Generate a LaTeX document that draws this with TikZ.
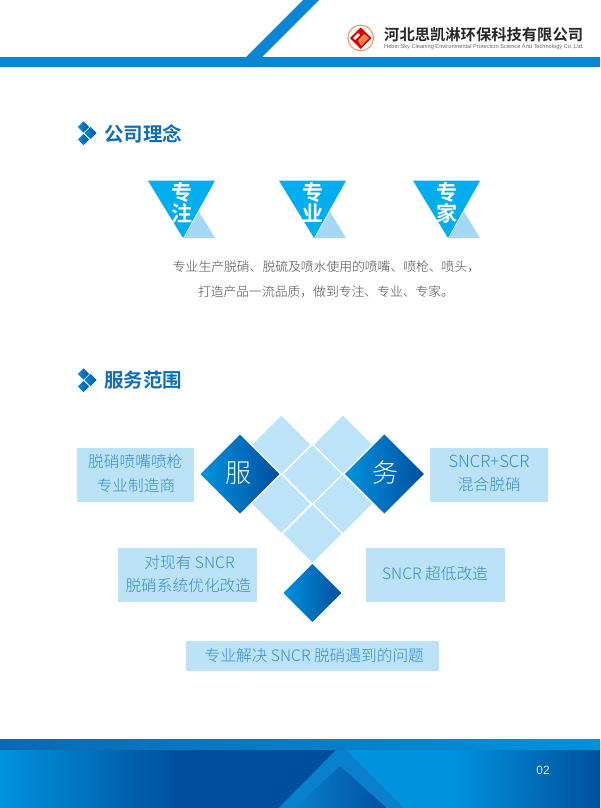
\documentclass[tikz,border=0pt]{standalone}
\usepackage{fontspec}
\setmainfont{Noto Sans CJK SC Light}[BoldFont={Noto Sans CJK SC Bold}]
\newfontfamily\latinf{Liberation Sans}
\definecolor{barblue}{HTML}{0A86D2}
\definecolor{deepblue}{HTML}{004F9F}
\definecolor{brightblue}{HTML}{0092DD}
\definecolor{stripeb}{HTML}{0A7FCC}
\definecolor{stripdk}{HTML}{0A69B4}
\definecolor{skyb}{HTML}{00AEEF}
\definecolor{palet}{HTML}{A6D8F4}
\definecolor{paleb}{HTML}{BCE2F8}
\definecolor{lattice}{HTML}{BDE3F8}
\definecolor{boxtext}{HTML}{2F8FCB}
\definecolor{titleb}{HTML}{0E6DB6}
\newcommand{\fs}[1]{\fontsize{#1}{#1}\selectfont}
\newcommand{\diam}[4]{\path[#4] (#1-#3,#2) -- (#1,#2-#3) -- (#1+#3,#2) -- (#1,#2+#3) -- cycle;}
\newcommand{\tri}[2]{%
  \fill[skyb] (#1,180.7) -- (#1+67,180.7) -- (#1+35,238) -- cycle;
  \fill[palet] (#1+51,211.7) -- (#1+67,238) -- (#1+35.5,238) -- cycle;
  \node[trichar] (#2a) at (#1+33.7,192.7) {专};
}
\newcommand{\icon}[1]{%
  \diam{83.5}{#1-6}{5.6}{blueg}
  \diam{90.5}{#1}{6.2}{blueg}
  \diam{83.5}{#1+6.5}{5.6}{blueg}
}
\tikzset{
  blueg/.style={left color=brightblue,right color=deepblue},
  latt/.style={fill=lattice},
  infobox/.style={fill=paleb},
  boxlabel/.style={text=boxtext,font=\fs{15.7},inner sep=0pt,align=center},
  trichar/.style={text=white,font=\fs{21}\bfseries,inner sep=0pt},
  sectitle/.style={text=titleb,font=\fs{19.5}\bfseries,inner sep=0pt,anchor=west},
  bodytext/.style={text=black!70,font=\fs{12.8},inner sep=0pt},
  dchar/.style={text=white,font=\fs{26},inner sep=0pt}
}
\begin{document}
\begin{tikzpicture}[x=1pt,y=-1pt]
\useasboundingbox (0,0) rectangle (600,808);
% header
\fill[barblue] (246,57) -- (303,0) -- (319,0) -- (262,57) -- cycle;
\fill[barblue] (0,57) rectangle (600,67);
\draw[draw=orange!70!red!70,line width=1pt,fill=white] (360.7,38) circle (12.8);
\fill[red!85!black] (360.7,27.5) -- (371.5,38) -- (360.7,49) -- (350,38) -- cycle;
\fill[orange!60!red!70] (358,40.5) -- (364,34) -- (369,38) -- (361,46) -- cycle;
\fill[white] (353,38) -- (358,33) -- (360,35) -- (355,40) -- cycle;
\node[inner sep=0pt,anchor=west,font=\fs{15.3}\bfseries,text=black!85] (cname) at (384,35) {河北思凯淋环保科技有限公司};
\node[inner sep=0pt,anchor=west,font=\latinf\fs{5.66},text=black!60] (ename) at (384,47) {Hebei Sky Cleaning Environmental Protection Science And Technology Co.,Ltd.};
% section 1
\icon{133}
\node[sectitle] (t1) at (104,133.5) {公司理念};
\tri{148}{p}
\node[trichar] (pb) at (181.7,213) {注};
\tri{279}{q}
\node[trichar] (qb) at (312.7,213) {业};
\tri{413}{r}
\node[trichar] (rb) at (446.7,213) {家};
\node[bodytext] (l1) at (326.5,267) {专业生产脱硝、脱硫及喷水使用的喷嘴、喷枪、喷头，};
\node[bodytext] (l2) at (326,292) {打造产品一流品质，做到专注、专业、专家。};
% section 2
\icon{380}
\node[sectitle] (t2) at (104,380) {服务范围};
% lattice
\diam{281.3}{444.7}{29}{latt}
\diam{343}{444.7}{29}{latt}
\diam{312.3}{474.2}{29}{latt}
\diam{281.3}{503.8}{29}{latt}
\diam{343}{503.8}{29}{latt}
\diam{312.3}{533.7}{29}{latt}
% dark diamonds
\diam{240}{474}{39.5}{blueg}
\diam{384.3}{474}{39.5}{blueg}
\diam{312.3}{593}{29}{blueg}
\node[dchar] (fu) at (238,473) {服};
\node[dchar] (wu) at (385.7,473) {务};
% boxes
\fill[infobox] (77,447.7) rectangle (194.3,501.7);
\fill[infobox] (430.3,447.7) rectangle (547.7,501.7);
\fill[infobox] (118.3,547.7) rectangle (257.3,601.7);
\fill[infobox] (366.3,547.7) rectangle (505.3,601.7);
\fill[infobox] (185.7,641) rectangle (439,671);
\node[boxlabel] (a1) at (135.3,461.7) {脱硝喷嘴喷枪};
\node[boxlabel] (a2) at (136,485.5) {专业制造商};
\node[boxlabel,font=\fs{16.6}] (b1) at (489,461) {SNCR+SCR};
\node[boxlabel] (b2) at (489.3,485) {混合脱硝};
\node[boxlabel] (c1) at (189.5,562.3) {对现有 SNCR};
\node[boxlabel] (c2) at (188.3,586) {脱硝系统优化改造};
\node[boxlabel] (d1) at (435,574) {SNCR 超低改造};
\node[boxlabel] (e1) at (314.3,655.7) {专业解决 SNCR 脱硝遇到的问题};
% footer
\path[left color=stripdk,right color=brightblue] (0,739.5) rectangle (600,750);
\path[left color=brightblue,right color=deepblue] (0,750) rectangle (175,808);
\fill[deepblue] (175,750) rectangle (336,808);
\fill[brightblue] (340,750) rectangle (455,808);
\path[left color=brightblue,right color=deepblue] (455,750) rectangle (600,808);
\fill[stripeb] (278.6,808) -- (336,750) -- (346,750) -- (404,808) -- cycle;
\path[left color=stripeb,right color=deepblue] (340,766) -- (386.5,808) -- (295,808) -- cycle;
\node[inner sep=0pt,font=\latinf\fs{12},text=white!85!brightblue] (pg) at (543,770) {02};
\end{tikzpicture}
\end{document}
